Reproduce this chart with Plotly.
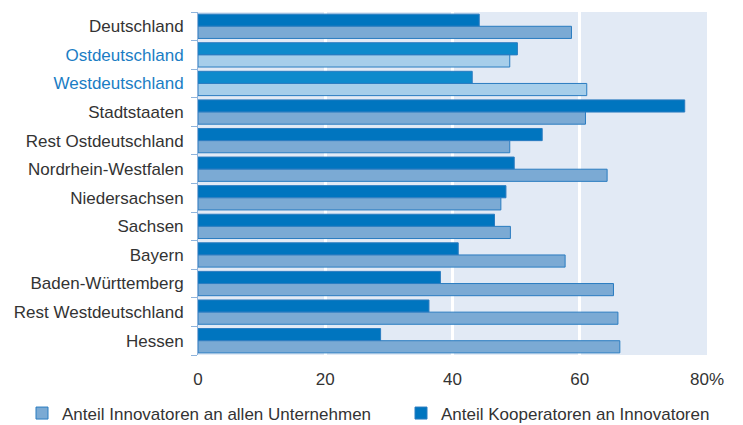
import plotly.graph_objects as go

categories = ["Deutschland", "Ostdeutschland", "Westdeutschland", "Stadtstaaten",
              "Rest Ostdeutschland", "Nordrhein-Westfalen", "Niedersachsen", "Sachsen",
              "Bayern", "Baden-Württemberg", "Rest Westdeutschland", "Hessen"]
innovatoren = [58.7, 49.0, 61.1, 60.9, 49.0, 64.3, 47.6, 49.1, 57.7, 65.3, 66.0, 66.3]
kooperatoren = [44.2, 50.2, 43.1, 76.5, 54.1, 49.7, 48.4, 46.6, 40.9, 38.1, 36.3, 28.7]
highlight = ["Ostdeutschland", "Westdeutschland"]
x_ticks = [0, 20, 40, 60, 80]
x_ticklabels = ["0", "20", "40", "60", "80%"]

dark = "#0075BF"
dark_hl = "#0E8ACC"
light = "#7BAAD4"
light_hl = "#A6CEEA"

kc = [dark_hl if c in highlight else dark for c in categories]
ic = [light_hl if c in highlight else light for c in categories]

W, H = 735, 417

fig = go.Figure()
fig.add_trace(go.Bar(
    y=categories, x=kooperatoren, orientation="h", name="Anteil Kooperatoren an Innovatoren",
    marker=dict(color=kc, line=dict(color="#2A7CC0", width=1)), legend="legend2",
))
fig.add_trace(go.Bar(
    y=categories, x=innovatoren, orientation="h", name="Anteil Innovatoren an allen Unternehmen",
    marker=dict(color=ic, line=dict(color="#2A7CC0", width=1)), legend="legend",
))

ticktext = [f'<span style="color:#1A7DC4">{c}</span>' if c in highlight else c for c in categories]

legend_common = dict(orientation="h", xref="container", yref="container",
                     xanchor="left", yanchor="middle", y=1 - 405.5 / H,
                     font=dict(size=17, color="#333333"), itemwidth=30,
                     bgcolor="rgba(0,0,0,0)")

fig.update_layout(
    width=W, height=H,
    margin=dict(l=190, r=36, t=4, b=70, autoexpand=False),
    barmode="group", bargap=0.15, bargroupgap=0,
    plot_bgcolor="#E2EAF5", paper_bgcolor="white",
    font=dict(family="Liberation Sans, Arial, sans-serif", size=17, color="#333333"),
    showlegend=True,
    legend=dict(x=14 / W, **legend_common),
    legend2=dict(x=393 / W, **legend_common),
    xaxis=dict(range=[0, 80], tickvals=x_ticks, ticktext=x_ticklabels,
               showgrid=True, gridcolor="white", gridwidth=3, zeroline=False,
               showline=False, ticks="", ticklabelstandoff=12, fixedrange=True),
    yaxis=dict(categoryorder="array", categoryarray=categories, autorange="reversed",
               tickvals=categories, ticktext=ticktext, tickson="boundaries",
               ticks="outside", ticklen=6, tickcolor="#8FB4DC", tickwidth=1,
               showline=True, linecolor="#8FB4DC", linewidth=1, showgrid=False,
               ticklabelstandoff=10),
)

fig.write_html("out.html")
